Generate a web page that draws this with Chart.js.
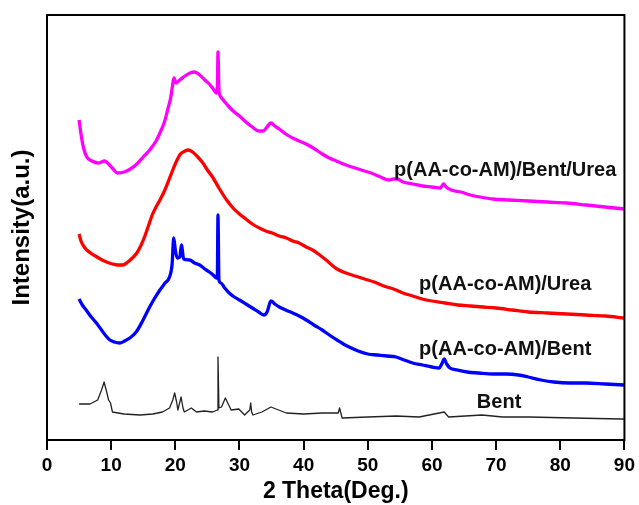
<!DOCTYPE html>
<html>
<head>
<meta charset="utf-8">
<script src="https://cdn.jsdelivr.net/npm/chart.js"></script>
<style>
  html, body { margin: 0; padding: 0; background: #fff; }
  #wrap { width: 639px; height: 505px; }
</style>
</head>
<body>
<div id="wrap"><canvas id="xrd"></canvas></div>
<script>
// XRD patterns, intensity in arbitrary units (curves are offset as in the figure)
const buX = [5.0,5.3,5.7,6.2,7.0,8.0,9.0,9.6,10.3,11.0,12.0,13.0,14.0,15.0,16.0,17.0,17.6,18.3,18.8,19.3,19.6,19.8,20.1,20.7,21.5,22.3,23.0,23.8,24.6,25.3,25.9,26.4,26.55,26.65,26.8,27.0,27.6,28.4,29.2,30.0,31.0,32.0,33.0,33.7,34.4,34.9,35.5,36.2,37.2,38.3,39.3,40.4,41.5,42.9,44.0,45.1,46.2,47.5,49.0,50.5,52.0,53.3,54.0,54.6,55.5,57.0,58.5,60.0,61.3,61.8,62.2,63.0,64.5,66.0,67.5,69.5,72.0,75.0,78.0,81.0,84.0,87.0,90.0];
const buY = [320,306,292,283,279,277,279,276,271,267,268,271,276,283,290,299,307,318,330,343,356,362,357,360,364,367,368,365,360,356,351,347,352,388,350,344,339,333,328,324,318,313,309,309,314,317,314,311,306,302,299,296,292,286,282,279,276,273,270,267,263,260,261,261,258,256,254,253,252,256,253,250,248,245,243,241,240,239,238,237,235,233,231];

const urX = [5.0,5.3,5.7,6.2,7.0,7.8,8.6,9.3,10.2,11.0,11.8,12.6,13.3,14.0,14.6,15.2,15.8,16.4,17.0,17.6,18.3,19.0,19.6,20.2,20.8,21.5,22.0,22.7,23.5,24.3,25.0,25.8,26.8,28.0,29.0,30.0,31.0,32.0,33.1,34.1,35.1,36.2,37.3,38.3,39.3,40.4,41.4,42.5,43.5,44.4,45.2,46.6,48.0,49.5,51.0,52.5,54.0,55.5,57.0,58.5,60.0,62.0,64.0,66.0,68.0,70.0,72.5,75.0,78.0,81.0,84.0,87.0,90.0];
const urY = [206,199,194,190,186,183,180,178,176,175,175,178,182,187,194,203,214,225,233,240,249,260,270,279,286,289,290,288,283,277,270,263,252,240,232,226,221,216,212,209,207,204,202,199,197,193,190,185,180,175,171,167,164,161,158,154,151,147,144,141,139,137,135,134,133,132,130,128,127,126,125,124,122];

const bnX = [5.0,5.5,6.1,6.9,7.7,8.5,9.2,9.8,10.5,11.3,12.1,12.9,13.9,14.9,16.0,16.8,17.6,18.4,19.1,19.5,19.75,20.0,20.3,20.7,20.95,21.3,22.2,23.0,23.8,24.6,25.3,25.9,26.4,26.55,26.65,26.8,27.1,27.7,28.4,29.2,30.0,31.0,32.0,33.0,33.8,34.3,34.9,35.5,36.2,37.2,38.3,39.3,40.4,41.6,42.9,44.0,45.2,46.2,47.1,48.5,50.0,51.5,53.0,54.4,55.7,57.0,58.5,60.0,61.1,61.6,61.9,62.3,62.8,64.0,65.5,67.3,69.5,71.5,73.5,75.0,77.0,79.0,81.5,84.0,87.0,90.0];
const bnY = [141,135,130,123,117,110,104,100,98,97,99,102,108,119,133,142,150,157,163,176,202,190,182,183,195,181,180,177,175,171,168,165,162,165,225,160,157,152,147,143,140,136,132,128,125,128,139,136,133,130,127,124,120,115,110,105,100,96,93,89,86,85,84,83,80,77,75,73,72,77,81,76,72,70,68,67,66,66,65,63,60,58,57,57,56,55];

const btX = [5.0,6.7,7.9,8.5,8.9,9.3,9.6,9.9,10.2,12.0,14.5,16.5,18.0,19.1,19.6,19.9,20.2,20.4,20.9,21.2,21.4,22.5,23.3,24.5,25.8,26.55,26.65,26.8,27.2,27.8,28.7,29.9,30.8,31.6,31.75,31.9,32.1,33.5,34.9,37.3,40.0,42.9,45.4,45.6,45.8,46.0,50.0,54.4,58.0,61.9,62.6,67.8,71.0,75.1,82.0,89.5,90.0];
const btY = [36,36,40,50,58,48,40,37,28,26,25,26,28,32,40,47,38,30,43,32,28,32,28,29,28,30,83,32,33,42,30,31,25,30,37,28,25,28,33,27,26,27,27,32,27,22,23,24,23,28,23,25,23,23,22,21,21];

const seriesNames = ['p(AA-co-AM)/Bent/Urea', 'p(AA-co-AM)/Urea', 'p(AA-co-AM)/Bent', 'Bent'];
// label anchor (left, baseline) in data units
const labelX = [54.1, 58.0, 58.0, 67.0];
const labelY = [264, 150, 85, 32];

const xTicks = [0, 10, 20, 30, 40, 50, 60, 70, 80, 90];

function pts(xs, ys) { return xs.map((x, i) => ({ x: x, y: ys[i] })); }

Chart.defaults.font.family = "'Liberation Sans', Arial, sans-serif";
Chart.defaults.color = '#000';

const frameAndLabels = {
  id: 'frameAndLabels',
  afterDraw(chart) {
    const ctx = chart.ctx, a = chart.chartArea;
    const sx = chart.scales.x, sy = chart.scales.y;
    ctx.save();
    ctx.strokeStyle = '#000';
    ctx.lineWidth = 2;
    ctx.strokeRect(a.left, a.top, a.right - a.left, a.bottom - a.top);
    ctx.fillStyle = '#111';
    ctx.font = "bold 20px 'Liberation Sans', Arial, sans-serif";
    ctx.textAlign = 'left';
    ctx.textBaseline = 'alphabetic';
    seriesNames.forEach((n, i) => {
      ctx.fillText(n, sx.getPixelForValue(labelX[i]), sy.getPixelForValue(labelY[i]));
    });
    ctx.restore();
  }
};

new Chart(document.getElementById('xrd'), {
  type: 'line',
  data: {
    datasets: [
      { label: seriesNames[0], data: pts(buX, buY), borderColor: '#ff00ff', borderWidth: 3.3, cubicInterpolationMode: 'monotone' },
      { label: seriesNames[1], data: pts(urX, urY), borderColor: '#ff0000', borderWidth: 3.3, cubicInterpolationMode: 'monotone' },
      { label: seriesNames[2], data: pts(bnX, bnY), borderColor: '#0000ff', borderWidth: 3.3, cubicInterpolationMode: 'monotone' },
      { label: seriesNames[3], data: pts(btX, btY), borderColor: '#222222', borderWidth: 1.3, tension: 0 }
    ]
  },
  options: {
    responsive: true,
    maintainAspectRatio: false,
    animation: false,
    events: [],
    elements: { point: { radius: 0 }, line: { fill: false, borderJoinStyle: 'round' } },
    layout: { padding: { top: 15, right: 13, left: 0, bottom: 0 } },
    plugins: { legend: { display: false }, tooltip: { enabled: false } },
    scales: {
      x: {
        type: 'linear', min: 0, max: 90,
        afterBuildTicks: s => { s.ticks = xTicks.map(v => ({ value: v })); },
        ticks: { font: { size: 19, weight: 'bold' }, padding: 4, maxRotation: 0, autoSkip: false },
        grid: { drawOnChartArea: false, tickLength: 10, color: '#000', lineWidth: 2 },
        border: { display: false },
        title: { display: true, text: '2 Theta(Deg.)', font: { size: 23, weight: 'bold' }, padding: { top: 0, bottom: 0 } },
        afterFit: s => { s.height = 65; }
      },
      y: {
        min: 0, max: 425,
        ticks: { display: false },
        grid: { display: false },
        border: { display: false },
        title: { display: true, text: 'Intensity(a.u.)', font: { size: 24, weight: 'bold' }, padding: { top: 8, bottom: 0 } },
        afterFit: s => { s.width = 47; }
      }
    }
  },
  plugins: [frameAndLabels]
});
</script>
</body>
</html>
